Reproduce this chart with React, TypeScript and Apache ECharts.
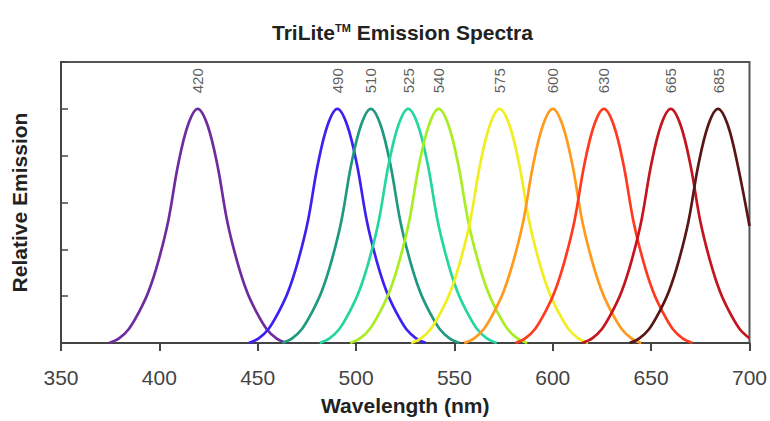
import React, { useEffect, useRef } from "react";
import * as echarts from "echarts";

// Tick labels / nominal names
const X_TICKS_MIN = 350;
const X_TICKS_MAX = 700;
const X_TICK_STEP = 50;

const PEAK_NAMES = ["420", "490", "510", "525", "540", "575", "600", "630", "665", "685"];
const PEAK_WL = [419.5, 490.5, 507.5, 526.5, 542, 573, 600, 626, 660, 684];
const COLORS = [
  "#6e2c9f",
  "#3b22f2",
  "#1f9a7e",
  "#24d6a0",
  "#a8ee22",
  "#f2ee1e",
  "#ff9a1c",
  "#ff3a1e",
  "#c4141f",
  "#5a1515",
];

// Emission curves: [wavelength nm, relative emission]
const S420 = [[374.5, 0], [379.5, 0.02], [384.5, 0.06], [389.5, 0.13], [394.5, 0.22], [399.5, 0.35], [404.5, 0.52], [409.5, 0.76], [414.5, 0.93], [419.5, 1], [424.5, 0.93], [429.5, 0.76], [434.5, 0.52], [439.5, 0.35], [444.5, 0.22], [449.5, 0.13], [454.5, 0.06], [459.5, 0.02], [464.5, 0]];
const S490 = [[445.5, 0], [450.5, 0.02], [455.5, 0.06], [460.5, 0.13], [465.5, 0.22], [470.5, 0.35], [475.5, 0.52], [480.5, 0.76], [485.5, 0.93], [490.5, 1], [495.5, 0.93], [500.5, 0.76], [505.5, 0.52], [510.5, 0.35], [515.5, 0.22], [520.5, 0.13], [525.5, 0.06], [530.5, 0.02], [535.5, 0]];
const S510 = [[462.5, 0], [467.5, 0.02], [472.5, 0.06], [477.5, 0.13], [482.5, 0.22], [487.5, 0.35], [492.5, 0.52], [497.5, 0.76], [502.5, 0.93], [507.5, 1], [512.5, 0.93], [517.5, 0.76], [522.5, 0.52], [527.5, 0.35], [532.5, 0.22], [537.5, 0.13], [542.5, 0.06], [547.5, 0.02], [552.5, 0]];
const S525 = [[481.5, 0], [486.5, 0.02], [491.5, 0.06], [496.5, 0.13], [501.5, 0.22], [506.5, 0.35], [511.5, 0.52], [516.5, 0.76], [521.5, 0.93], [526.5, 1], [531.5, 0.93], [536.5, 0.76], [541.5, 0.52], [546.5, 0.35], [551.5, 0.22], [556.5, 0.13], [561.5, 0.06], [566.5, 0.02], [571.5, 0]];
const S540 = [[497, 0], [502, 0.02], [507, 0.06], [512, 0.13], [517, 0.22], [522, 0.35], [527, 0.52], [532, 0.76], [537, 0.93], [542, 1], [547, 0.93], [552, 0.76], [557, 0.52], [562, 0.35], [567, 0.22], [572, 0.13], [577, 0.06], [582, 0.02], [587, 0]];
const S575 = [[528, 0], [533, 0.02], [538, 0.06], [543, 0.13], [548, 0.22], [553, 0.35], [558, 0.52], [563, 0.76], [568, 0.93], [573, 1], [578, 0.93], [583, 0.76], [588, 0.52], [593, 0.35], [598, 0.22], [603, 0.13], [608, 0.06], [613, 0.02], [618, 0]];
const S600 = [[555, 0], [560, 0.02], [565, 0.06], [570, 0.13], [575, 0.22], [580, 0.35], [585, 0.52], [590, 0.76], [595, 0.93], [600, 1], [605, 0.93], [610, 0.76], [615, 0.52], [620, 0.35], [625, 0.22], [630, 0.13], [635, 0.06], [640, 0.02], [645, 0]];
const S630 = [[581, 0], [586, 0.02], [591, 0.06], [596, 0.13], [601, 0.22], [606, 0.35], [611, 0.52], [616, 0.76], [621, 0.93], [626, 1], [631, 0.93], [636, 0.76], [641, 0.52], [646, 0.35], [651, 0.22], [656, 0.13], [661, 0.06], [666, 0.02], [671, 0]];
const S665 = [[615, 0], [620, 0.02], [625, 0.06], [630, 0.13], [635, 0.22], [640, 0.35], [645, 0.52], [650, 0.76], [655, 0.93], [660, 1], [665, 0.93], [670, 0.76], [675, 0.52], [680, 0.35], [685, 0.22], [690, 0.13], [695, 0.06], [700, 0.02]];
const S685 = [[639, 0], [644, 0.02], [649, 0.06], [654, 0.13], [659, 0.22], [664, 0.35], [669, 0.52], [674, 0.76], [679, 0.93], [684, 1], [689, 0.93], [694, 0.76], [700, 0.5]];

const CURVES = [S420, S490, S510, S525, S540, S575, S600, S630, S665, S685];

const FONT = "'Liberation Sans', Arial, sans-serif";

export default function App() {
  const ref = useRef<HTMLDivElement>(null);

  useEffect(() => {
    if (!ref.current) return;
    const chart = echarts.init(ref.current, null, { renderer: "svg" });
    const lineSeries = CURVES.map((data, i) => ({
      type: "line",
      name: PEAK_NAMES[i],
      data,
      smooth: 0.35,
      symbol: "none",
      clip: true,
      lineStyle: { color: COLORS[i], width: 2.7 },
      z: 2,
    }));
    const labelSeries = {
      type: "scatter",
      data: PEAK_WL.map((x, i) => ({ value: [x, 1.12], name: PEAK_NAMES[i] })),
      symbolSize: 0,
      silent: true,
      label: {
        show: true,
        position: "inside",
        formatter: "{b}",
        rotate: 90,
        fontSize: 15,
        fontFamily: FONT,
        color: "#333",
      },
      z: 3,
    };
    chart.setOption({
      animation: false,
      backgroundColor: "#ffffff",
      title: {
        text: "{a|TriLite}{s|TM}{a| Emission Spectra}",
        left: 267,
        top: 17,
        textStyle: {
          rich: {
            a: { fontSize: 21, fontWeight: "bold", fontFamily: FONT, color: "#222" },
            s: { fontSize: 11, fontWeight: "bold", fontFamily: FONT, color: "#222", verticalAlign: "top" },
          },
        },
      },
      grid: {
        left: 61,
        right: 20,
        top: 62,
        bottom: 68,
        show: true,
        borderColor: "#555",
        borderWidth: 2,
      },
      xAxis: {
        type: "value",
        min: X_TICKS_MIN,
        max: X_TICKS_MAX,
        interval: X_TICK_STEP,
        name: "Wavelength (nm)",
        nameLocation: "middle",
        nameGap: 52,
        nameTextStyle: { fontSize: 21, fontWeight: "bold", fontFamily: FONT, color: "#222" },
        axisLine: { lineStyle: { color: "#444", width: 2 } },
        axisTick: { show: true, inside: false, length: 8, lineStyle: { color: "#444", width: 2 } },
        axisLabel: { fontSize: 21, fontFamily: FONT, color: "#444", margin: 24 },
        splitLine: { show: false },
      },
      yAxis: {
        type: "value",
        min: 0,
        max: 1.2,
        interval: 0.2,
        name: "Relative Emission",
        nameLocation: "middle",
        nameGap: 31,
        nameTextStyle: { fontSize: 21, fontWeight: "bold", fontFamily: FONT, color: "#222" },
        axisLine: { show: true, lineStyle: { color: "#444", width: 2 } },
        axisTick: { show: true, inside: true, length: 7, lineStyle: { color: "#444", width: 1.5 } },
        axisLabel: { show: false },
        splitLine: { show: false },
      },
      series: [...lineSeries, labelSeries],
    });
    return () => chart.dispose();
  }, []);

  return (
    <div
      ref={ref}
      style={{ position: "absolute", left: 0, top: 0, width: 770, height: 421 }}
    />
  );
}
